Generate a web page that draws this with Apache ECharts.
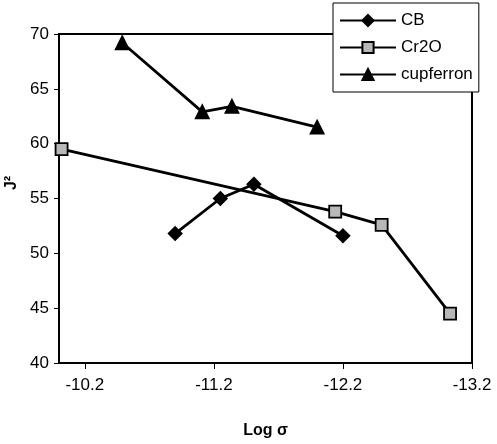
<!DOCTYPE html>
<html>
<head>
<meta charset="utf-8">
<script src="https://cdn.jsdelivr.net/npm/echarts@6/dist/echarts.min.js"></script>
<style>
  html, body { margin: 0; padding: 0; background: #fff; }
  #chart { width: 497px; height: 444px; }
</style>
</head>
<body>
<div id="chart"></div>
<script>
// values
const cbX = [-10.90, -11.25, -11.51, -12.20]
const cbY = [51.8, 55.0, 56.3, 51.6]
const cr2oX = [-10.02, -12.14, -12.50, -13.03]
const cr2oY = [59.5, 53.8, 52.6, 44.5]
const cupX = [-10.49, -11.11, -11.34, -12.00]
const cupY = [69.2, 62.9, 63.4, 61.5]
const xTicks = [-10.2, -11.2, -12.2, -13.2]

const pairs = (xs, ys) => xs.map((x, i) => [x, ys[i]])
const font = 'Liberation Sans, Arial, sans-serif'

const chart = echarts.init(document.getElementById('chart'))

function line(name, data, symbol, size, fill) {
  return {
    name,
    type: 'line',
    data,
    symbol,
    symbolSize: size,
    showAllSymbol: true,
    lineStyle: { color: '#000', width: 2.8 },
    itemStyle: { color: fill, borderColor: '#000', borderWidth: 1.8 },
    emphasis: { disabled: true },
    z: 3
  }
}

chart.setOption({
  animation: false,
  grid: { left: 59, right: 25, top: 34, bottom: 80, show: true, borderColor: '#000', borderWidth: 2 },
  legend: {
    orient: 'vertical',
    left: 333,
    top: 3,
    width: 150,
    padding: [9, 6, 9, 6],
    itemGap: 10,
    itemWidth: 56,
    itemHeight: 14,
    backgroundColor: '#fff',
    borderColor: '#000',
    borderWidth: 1,
    textStyle: { fontFamily: font, fontSize: 17, color: '#000' },
    data: ['CB', 'Cr2O', 'cupferron']
  },
  graphic: [{
    type: 'text',
    x: 12,
    y: 183,
    rotation: Math.PI / 2,
    style: { text: 'J²', fontFamily: font, fontSize: 16, fontWeight: 'bold', fill: '#000', align: 'center', verticalAlign: 'middle' }
  }],
  xAxis: {
    type: 'value',
    inverse: true,
    min: -13.2,
    max: -10.0,
    name: 'Log σ',
    nameLocation: 'middle',
    nameGap: 60,
    nameTextStyle: { fontFamily: font, fontSize: 16, fontWeight: 'bold', color: '#000' },
    axisLine: { lineStyle: { color: '#000', width: 2 } },
    axisTick: { show: true, customValues: xTicks, length: 6, lineStyle: { color: '#000' } },
    axisLabel: { customValues: xTicks, formatter: v => v.toFixed(1), fontFamily: font, fontSize: 17, color: '#000', margin: 14 },
    splitLine: { show: false }
  },
  yAxis: {
    type: 'value',
    min: 40,
    max: 70,
    interval: 5,
    axisLine: { show: true, lineStyle: { color: '#000', width: 2 } },
    axisTick: { show: true, length: 5, lineStyle: { color: '#000' } },
    axisLabel: { fontFamily: font, fontSize: 17, color: '#000', margin: 10 },
    splitLine: { show: false }
  },
  series: [
    line('CB', pairs(cbX, cbY), 'diamond', 13, '#000'),
    line('Cr2O', pairs(cr2oX, cr2oY), 'rect', 12, '#b8b8b8'),
    line('cupferron', pairs(cupX, cupY), 'triangle', 13, '#000')
  ]
})
</script>
</body>
</html>
